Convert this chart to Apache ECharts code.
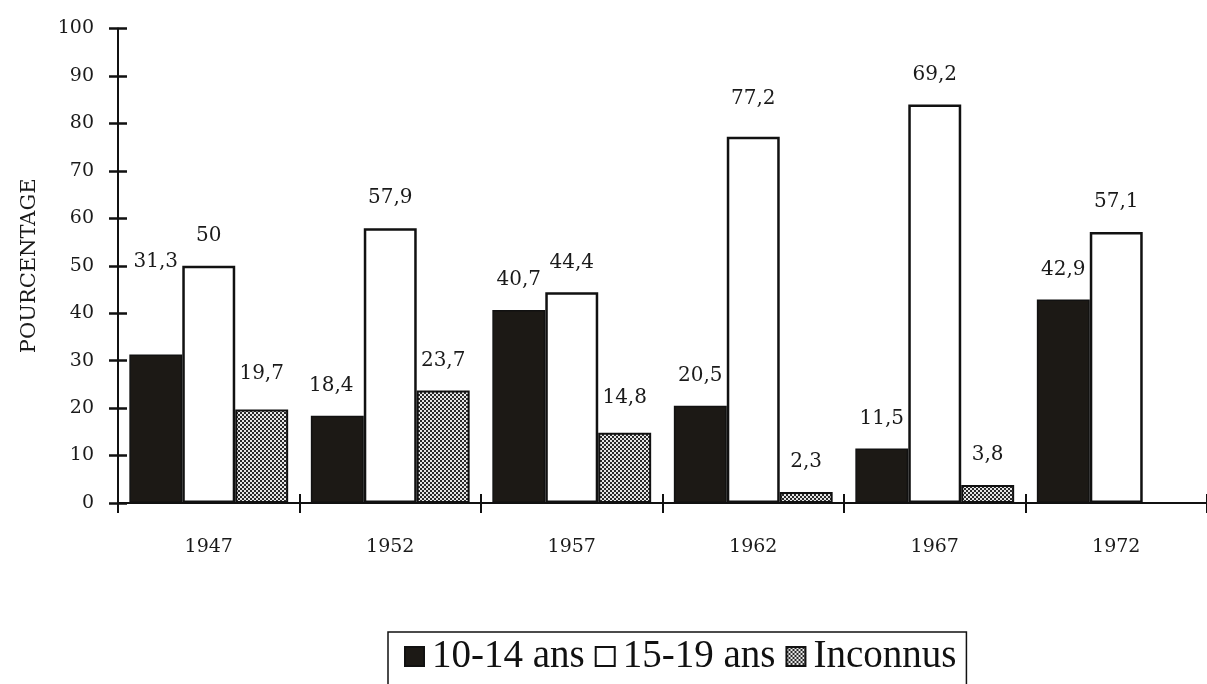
<!DOCTYPE html>
<html>
<head>
<meta charset="utf-8">
<script src="https://cdn.jsdelivr.net/npm/echarts@6/dist/echarts.min.js"></script>
<style>
html,body{margin:0;padding:0;background:#fff;}
#chart{width:1207px;height:684px;}
</style>
</head>
<body>
<div id="chart"></div>
<script>
// ---- data ----
var years = ['1947', '1952', '1957', '1962', '1967', '1972'];
var seriesNames = ['10-14 ans', '15-19 ans', 'Inconnus'];
// bar heights as drawn in the picture
var age1014 = [31.3, 18.4, 40.7, 20.5, 11.5, 42.9];
var age1519 = [50, 57.9, 44.4, 77.2, 84, 57.1];
var inconnus = [19.7, 23.7, 14.8, 2.3, 3.8, null];
// printed labels over the bars
var label1014 = ['31,3', '18,4', '40,7', '20,5', '11,5', '42,9'];
var label1519 = ['50', '57,9', '44,4', '77,2', '69,2', '57,1'];
var labelInc = ['19,7', '23,7', '14,8', '2,3', '3,8', ''];
var yTicks = [0, 10, 20, 30, 40, 50, 60, 70, 80, 90, 100];

// ---- hatch pattern ----
var pc = document.createElement('canvas');
pc.width = 4; pc.height = 4;
var pctx = pc.getContext('2d');
pctx.fillStyle = '#e6e6e6';
pctx.fillRect(0, 0, 4, 4);
pctx.fillStyle = '#2a2a2a';
pctx.fillRect(0, 0, 2, 2);
pctx.fillRect(2, 2, 2, 2);
var hatch = {image: pc, repeat: 'repeat'};

var FONT = 'DejaVu Serif';
var chart = echarts.init(document.getElementById('chart'), null, {renderer: 'canvas'});

function buildData(vals, labels, extra) {
  return vals.map(function (v, i) {
    var d = {value: v, label: {formatter: labels[i]}};
    if (extra && extra[i]) d.label = Object.assign(d.label, extra[i]);
    return d;
  });
}

var labelBase = {
  show: true, position: 'top', distance: 20,
  fontFamily: FONT, fontSize: 20, color: '#1a1a1a'
};

var option = {
  backgroundColor: '#ffffff',
  animation: false,
  grid: {left: 118, top: 28.5, width: 1095, height: 474.5, containLabel: false},
  legend: {
    left: 388, top: 632,
    data: seriesNames,
    icon: 'rect', itemWidth: 19, itemHeight: 19, itemGap: 10,
    padding: [5, 10, 14, 16],
    borderColor: '#111', borderWidth: 1.5,
    textStyle: {fontFamily: 'Liberation Serif', fontSize: 39, color: '#111', padding: [0, 0, 0, 3]}
  },
  xAxis: [{
    type: 'category', data: years, position: 'bottom',
    axisLine: {show: true, lineStyle: {color: '#111', width: 2}},
    axisTick: {show: true, length: 10, lineStyle: {color: '#111', width: 2}},
    axisLabel: {fontFamily: FONT, fontSize: 19, color: '#1a1a1a', margin: 35}
  }, {
    type: 'category', data: years, position: 'bottom',
    axisLine: {show: false},
    axisTick: {show: true, inside: true, length: 9, lineStyle: {color: '#111', width: 2}},
    axisLabel: {show: false}
  }],
  yAxis: [{
    type: 'value', min: 0, max: 100, interval: 10, position: 'left',
    name: 'POURCENTAGE', nameLocation: 'middle', nameGap: 78, nameRotate: 90,
    nameTextStyle: {fontFamily: FONT, fontSize: 21, color: '#1a1a1a'},
    axisLine: {show: true, lineStyle: {color: '#111', width: 2}},
    axisTick: {show: true, length: 9, lineStyle: {color: '#111', width: 2.5}},
    axisLabel: {fontFamily: FONT, fontSize: 19, color: '#1a1a1a', margin: 24,
      formatter: function (v) { return yTicks.indexOf(v) >= 0 ? String(v) : ''; }},
    splitLine: {show: false}
  }, {
    type: 'value', min: 0, max: 100, interval: 10, position: 'left', offset: 0,
    axisLine: {show: false},
    axisTick: {show: true, inside: true, length: 9, lineStyle: {color: '#111', width: 2.5}},
    axisLabel: {show: false},
    splitLine: {show: false}
  }],
  series: [{
    name: seriesNames[0], type: 'bar', xAxisIndex: 0, yAxisIndex: 0,
    barGap: '0%', barCategoryGap: '12.5%',
    itemStyle: {color: '#1c1915', borderColor: '#111', borderWidth: 1.5},
    label: labelBase,
    data: buildData(age1014, label1014, {0: {distance: 83}, 1: {offset: [-6, 0]}})
  }, {
    name: seriesNames[1], type: 'bar', xAxisIndex: 0, yAxisIndex: 0,
    barGap: '0%', barCategoryGap: '12.5%',
    itemStyle: {color: '#ffffff', borderColor: '#111', borderWidth: 2.5},
    label: labelBase,
    data: buildData(age1519, label1519, {3: {distance: 28}})
  }, {
    name: seriesNames[2], type: 'bar', xAxisIndex: 0, yAxisIndex: 0,
    barGap: '0%', barCategoryGap: '12.5%',
    itemStyle: {color: hatch, borderColor: '#111', borderWidth: 2},
    label: labelBase,
    data: buildData(inconnus, labelInc, {0: {distance: 26}, 2: {distance: 25}})
  }]
};
chart.setOption(option);
</script>
</body>
</html>
